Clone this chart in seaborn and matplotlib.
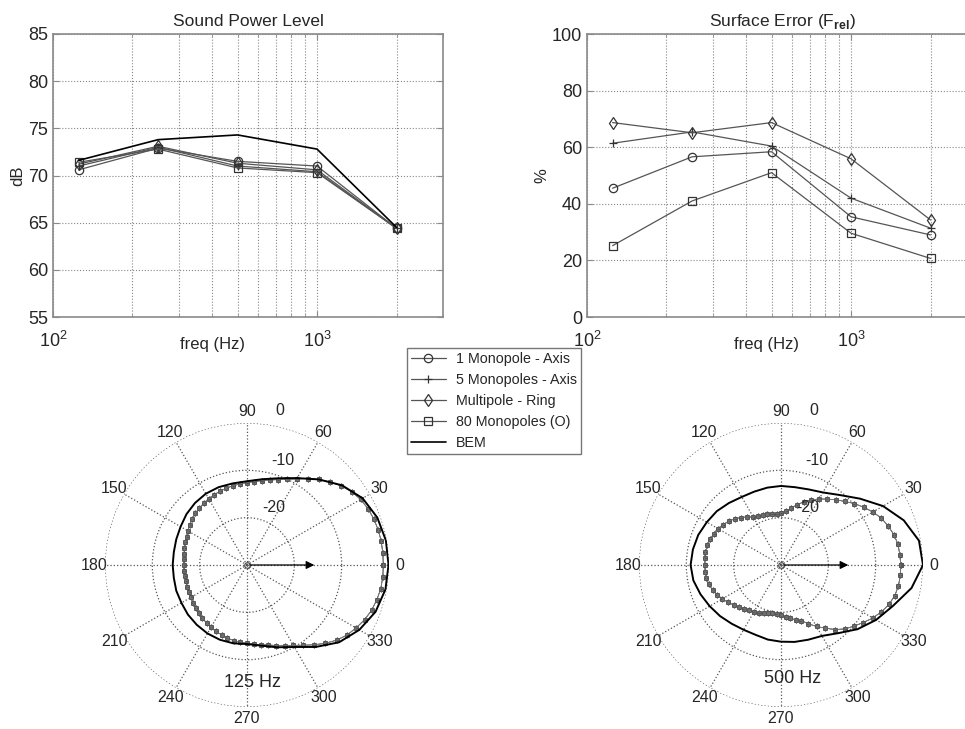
import numpy as np
import matplotlib
matplotlib.use('Agg')
import matplotlib.pyplot as plt
import seaborn as sns
from matplotlib.lines import Line2D
from matplotlib.ticker import NullFormatter, MultipleLocator

# ---- data ----
freq_hz = [125, 250, 500, 1000, 2000]
series_names = ['1 Monopole - Axis', '5 Monopoles - Axis', 'Multipole - Ring',
                '80 Monopoles (O)', 'BEM']
series_markers = ['o', '+', 'd', 's', None]

# sound power level (dB)
spl_one_axis = [70.6, 72.9, 71.5, 71.0, 64.4]
spl_five_axis = [71.0, 73.0, 71.0, 70.4, 64.4]
spl_ring = [71.2, 73.1, 71.3, 70.6, 64.4]
spl_eighty = [71.4, 72.8, 70.8, 70.3, 64.4]
spl_bem = [71.6, 73.8, 74.3, 72.8, 64.5]

# surface error (%)
err_one_axis = [45.5, 56.6, 58.4, 35.4, 29.0]
err_five_axis = [61.4, 65.4, 60.4, 42.0, 31.4]
err_ring = [68.7, 65.1, 68.7, 55.9, 34.3]
err_eighty = [25.2, 41.0, 51.0, 29.6, 20.7]

# directivity (dB re max), models every 5 deg, BEM every 10 deg
model_angle_deg = list(range(0, 360, 5))
bem_angle_deg = list(range(0, 360, 10))

model_125_db = [-1.2, -1.2, -1.2, -1.3, -1.5, -1.8, -2.3, -3.0, -4.0, -5.2, -6.4, -7.7,
                -9.0, -10.0, -10.8, -11.4, -11.9, -12.3, -12.6, -12.8, -13.0, -13.2, -13.4, -13.6,
                -13.8, -14.1, -14.3, -14.6, -14.9, -15.2, -15.6, -15.9, -16.1, -16.3, -16.5, -16.6,
                -16.6, -16.6, -16.6, -16.6, -16.5, -16.4, -16.3, -16.1, -15.9, -15.6, -15.3, -15.1,
                -14.8, -14.5, -14.3, -14.0, -13.8, -13.6, -13.5, -13.2, -12.9, -12.5, -11.9, -11.2,
                -10.4, -9.3, -8.0, -6.6, -5.3, -4.2, -3.4, -2.6, -2.0, -1.6, -1.3, -1.2]
bem_125_db = [-0.1, -0.2, -0.7, -1.8, -3.8, -6.4, -8.8, -10.5, -11.6, -12.3, -12.5, -12.5,
              -12.6, -12.9, -13.3, -13.8, -14.1, -14.3, -14.3, -14.3, -14.1, -14.0, -13.7, -13.5,
              -13.3, -13.2, -13.2, -13.3, -12.7, -11.5, -10.0, -7.4, -4.6, -2.6, -1.1, -0.3]

model_500_db = [-4.7, -4.8, -4.9, -5.3, -5.9, -6.6, -7.6, -8.7, -9.8, -11.0, -12.0, -13.0,
                -13.9, -14.8, -15.8, -16.8, -17.8, -18.6, -19.0, -19.1, -19.0, -18.9, -18.8, -18.6,
                -18.3, -17.6, -16.9, -16.2, -15.6, -15.1, -14.6, -14.3, -14.1, -13.9, -13.8, -13.8,
                -13.9, -13.9, -14.0, -14.2, -14.6, -15.1, -15.7, -16.3, -16.9, -17.4, -17.9, -18.3,
                -18.6, -18.9, -19.2, -19.4, -19.6, -19.7, -19.4, -19.0, -18.6, -18.0, -17.5, -16.3,
                -15.0, -13.7, -12.2, -10.9, -9.9, -8.8, -7.6, -6.6, -5.7, -5.1, -4.8, -4.7]
bem_500_db = [0.0, -0.4, -2.4, -5.1, -8.2, -10.7, -12.3, -13.0, -13.3, -13.3, -13.4, -13.5,
              -13.4, -12.9, -12.3, -11.9, -11.4, -11.1, -10.9, -11.2, -11.9, -12.6, -13.2, -13.8,
              -14.2, -14.3, -14.0, -13.8, -13.5, -13.2, -12.7, -11.2, -8.9, -6.8, -4.8, -2.0]

# ---- style ----
sns.set_style('ticks')
plt.rcParams['font.family'] = ['Liberation Sans', 'DejaVu Sans']
plt.rcParams['mathtext.fontset'] = 'custom'
plt.rcParams['mathtext.rm'] = 'Liberation Sans'
plt.rcParams['mathtext.bf'] = 'Liberation Sans:bold'
plt.rcParams['xtick.direction'] = 'in'
plt.rcParams['ytick.direction'] = 'in'

model_col = '#555555'
grid_col = '#888888'
frame_col = '#8a8a8a'

fig = plt.figure(figsize=(9.65, 7.29), dpi=100)


def top_panel(rect, model_series, bem, ylim, ystep, title, ylabel, xlabel_x):
    ax = fig.add_axes(rect)
    ax.set_xscale('log')
    for vals, mk in zip(model_series, series_markers[:4]):
        sns.lineplot(x=freq_hz, y=vals, ax=ax, color=model_col, lw=0.9,
                     marker=mk, ms=6, mfc='none', mec='#333333', mew=0.9,
                     legend=False, sort=False)
    if bem is not None:
        sns.lineplot(x=freq_hz, y=bem, ax=ax, color='black', lw=1.2,
                     legend=False, sort=False)
    ax.set_xlim(100, 3000)
    ax.set_ylim(*ylim)
    ax.yaxis.set_major_locator(MultipleLocator(ystep))
    ax.xaxis.set_minor_formatter(NullFormatter())
    ax.grid(True, which='both', axis='x', ls=':', color=grid_col, lw=0.8)
    ax.grid(True, which='major', axis='y', ls=':', color=grid_col, lw=0.8)
    ax.tick_params(which='both', top=True, right=True, labelsize=13,
                   color=frame_col, length=4)
    ax.tick_params(which='minor', length=2.5)
    ax.tick_params(axis='x', pad=10)
    for sp in ax.spines.values():
        sp.set_color(frame_col)
        sp.set_linewidth(1.2)
    ax.set_title(title, fontsize=12.5, pad=6)
    ax.set_ylabel(ylabel, fontsize=12, labelpad=2)
    ax.set_xlabel('freq (Hz)', fontsize=12)
    ax.xaxis.set_label_coords(xlabel_x, -0.07)
    return ax


ax1 = top_panel([53 / 965, 1 - 317 / 729, 390 / 965, 283 / 729],
                [spl_one_axis, spl_five_axis, spl_ring, spl_eighty], spl_bem,
                (55, 85), 5, 'Sound Power Level', 'dB', 0.41)
ax2 = top_panel([587 / 965, 1 - 317 / 729, 390 / 965, 283 / 729],
                [err_one_axis, err_five_axis, err_ring, err_eighty], None,
                (0, 100), 20, r'Surface Error (F$_{\mathbf{rel}}$)', '%', 0.46)


def polar_panel(rect, model_db, bem_db, label, label_xy):
    pax = fig.add_axes(rect, projection='polar')
    th_m = np.deg2rad(model_angle_deg + [360])
    r_m = model_db + model_db[:1]
    th_b = np.deg2rad(bem_angle_deg + [360])
    r_b = bem_db + bem_db[:1]
    for mk in series_markers[:4]:
        sns.lineplot(x=th_m, y=r_m, ax=pax, sort=False, legend=False,
                     color='#777777', lw=0.5, marker=mk, ms=3,
                     mfc='none', mec='#555555', mew=0.6)
    sns.lineplot(x=th_b, y=r_b, ax=pax, sort=False, legend=False,
                 color='black', lw=1.4)
    pax.set_ylim(-30, 0)
    pax.set_yticks([-20, -10, 0])
    pax.set_yticklabels([])
    pax.set_xticks(np.deg2rad(range(0, 360, 30)))
    pax.set_xticklabels([str(a) for a in range(0, 360, 30)])
    pax.tick_params(axis='x', labelsize=11.5, pad=1)
    pax.grid(True, ls=':', color='#555555', lw=0.9)
    pax.spines['polar'].set_visible(False)
    pax.set_xlabel('')
    pax.set_ylabel('')
    for ring, th in zip([-20, -10, 0], [65, 71, 78]):
        pax.text(np.deg2rad(th), ring + 3.3, str(ring), fontsize=11.5,
                 ha='center', va='center')
    pax.plot([0], [-30], marker='o', ms=4, mfc='none', mec='#444444', mew=0.8)
    pax.annotate('', xy=(0, -15.2), xytext=(0, -30),
                 arrowprops=dict(arrowstyle='-|>', color='black', lw=0.9,
                                 mutation_scale=12))
    pax.text(label_xy[0], label_xy[1], label, transform=pax.transAxes,
             fontsize=13, ha='center', va='center')
    return pax


polar_panel([105 / 965, 1 - 707 / 729, 284 / 965, 284 / 729],
            model_125_db, bem_125_db, '125 Hz', (0.52, 0.085))
polar_panel([639 / 965, 1 - 707 / 729, 284 / 965, 284 / 729],
            model_500_db, bem_500_db, '500 Hz', (0.54, 0.10))

handles = [Line2D([], [], color=model_col, lw=0.9, marker=mk, ms=6, mfc='none',
                  mec='#333333', mew=0.9) for mk in series_markers[:4]]
handles.append(Line2D([], [], color='black', lw=1.2))
leg = fig.legend(handles, series_names, loc='upper left',
                 bbox_to_anchor=(407 / 965, 1 - 348 / 729), fontsize=10.3,
                 frameon=True, fancybox=False, framealpha=1, edgecolor='#777777',
                 handlelength=2.4, handletextpad=0.7, labelspacing=0.48,
                 borderpad=0.3, borderaxespad=0)
leg.get_frame().set_linewidth(1.0)

fig.savefig('out.png', dpi=100)
